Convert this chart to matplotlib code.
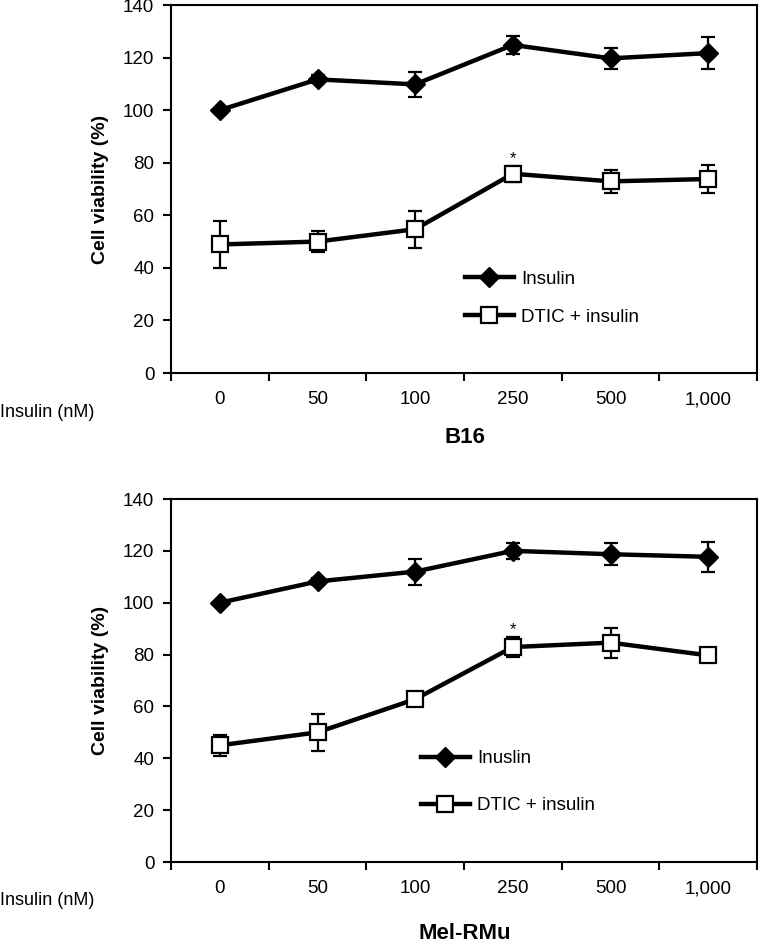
import matplotlib.pyplot as plt
import numpy as np

plt.rcParams['font.family'] = ['Liberation Sans', 'DejaVu Sans']

doses = ['0', '50', '100', '250', '500', '1,000']

# B16
b16_ins = [100, 111.7, 109.8, 124.8, 119.7, 121.7]
b16_ins_err = [0, 1.5, 4.9, 3.3, 4.0, 6.2]
b16_dtic = [48.9, 50.0, 54.7, 75.8, 72.9, 73.8]
b16_dtic_err = [9.0, 4.1, 7.0, 3.0, 4.4, 5.5]

# Mel-RMu
mel_ins = [100, 108.2, 112.0, 120.0, 118.7, 117.7]
mel_ins_err = [0, 1.5, 5.0, 3.0, 4.2, 5.7]
mel_dtic = [45.0, 50.0, 62.8, 82.9, 84.6, 79.7]
mel_dtic_err = [4.0, 7.0, 0, 3.7, 5.8, 0]

W, H = 759, 946
fig = plt.figure(figsize=(W / 100, H / 100), dpi=100)


def panel(rect, ins, ins_err, dtic, dtic_err, ins_label, title, star_y,
          leg_x, leg_y, leg_sp, title_y, unit_y):
    ax = fig.add_axes(rect)
    x = np.arange(len(doses))
    ax.errorbar(x, ins, yerr=ins_err, color='black', lw=3.2, marker='D', ms=10,
                mfc='black', mec='black', ecolor='black', elinewidth=1.6, capsize=5,
                capthick=1.6, label=ins_label, zorder=3)
    ax.errorbar(x, dtic, yerr=dtic_err, color='black', lw=3.2, marker='s', ms=11,
                mfc='white', mec='black', mew=1.6, ecolor='black', elinewidth=1.6,
                capsize=5, capthick=1.6, label='DTIC + insulin', zorder=3)
    ax.text(3, star_y, '*', ha='center', va='center', fontsize=12)
    ax.set_xlim(-0.5, 5.5)
    ax.set_ylim(0, 140)
    ax.set_yticks(range(0, 141, 20))
    ax.set_xticks(np.arange(-0.5, 5.6, 1))
    ax.set_xticklabels([])
    ax.set_xticks(x, minor=True)
    ax.set_xticklabels(doses, minor=True)
    ax.tick_params(axis='x', which='minor', length=0, pad=13, labelsize=13.5)
    ax.tick_params(axis='x', which='major', direction='out', length=6, width=1.5)
    ax.tick_params(axis='y', direction='out', length=6, width=1.5, labelsize=13.5, pad=6)
    for s in ax.spines.values():
        s.set_linewidth(1.5)
    ax.set_ylabel('Cell viability (%)', fontsize=14, fontweight='bold')
    ax.yaxis.set_label_coords(-62 / rect[2] / W, 0.5)
    h, l = ax.get_legend_handles_labels()
    h = [hh[0] for hh in h]
    ax.legend(h, l, loc='center left', bbox_to_anchor=(leg_x, leg_y), frameon=False,
              fontsize=13.5, handlelength=2.6, labelspacing=leg_sp, handletextpad=0.4)
    fig.text(465 / W, 1 - title_y / H, title, ha='center', va='center',
             fontsize=16, fontweight='bold')
    fig.text(0, 1 - unit_y / H, 'Insulin (nM)', ha='left', va='center', fontsize=13)
    return ax


panel([171 / W, 1 - 373 / H, 586 / W, 368 / H], b16_ins, b16_ins_err, b16_dtic, b16_dtic_err,
      'Insulin', 'B16', 81.6, 0.473, 0.203, 1.1, 437, 412)
panel([171 / W, 1 - 862 / H, 586 / W, 363 / H], mel_ins, mel_ins_err, mel_dtic, mel_dtic_err,
      'Inuslin', 'Mel-RMu', 89.6, 0.398, 0.22, 1.6, 933, 900)

fig.savefig('out.png', dpi=100)
